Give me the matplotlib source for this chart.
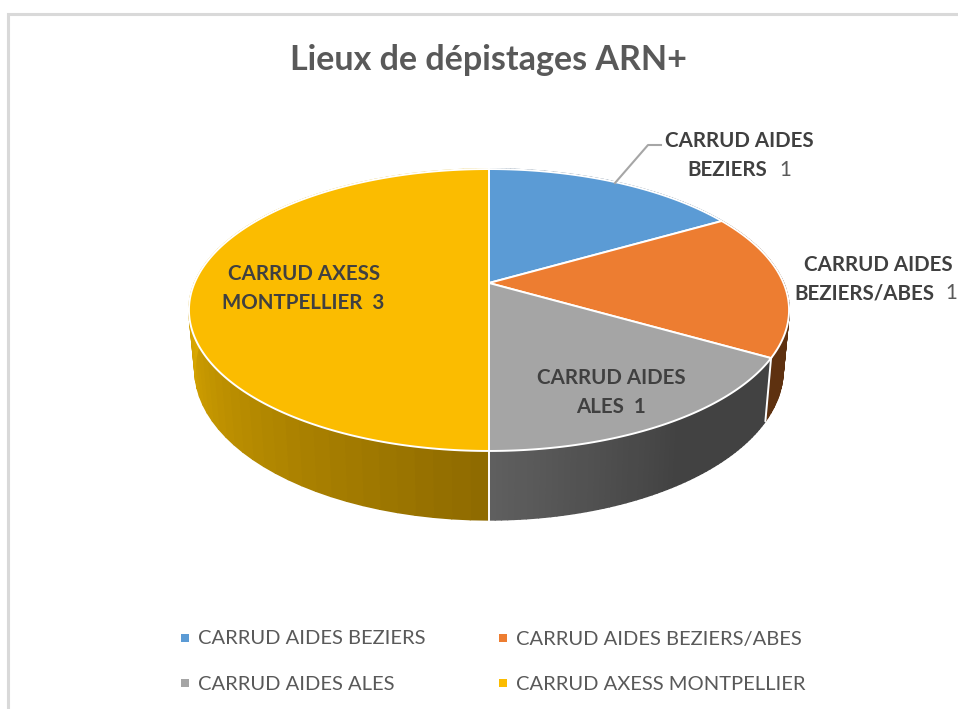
import numpy as np
import matplotlib
matplotlib.use("Agg")
import matplotlib.pyplot as plt
from matplotlib.collections import PolyCollection
from matplotlib.patches import Rectangle
from matplotlib.colors import to_rgb

categories = ["CARRUD AIDES BEZIERS", "CARRUD AIDES BEZIERS/ABES", "CARRUD AIDES ALES", "CARRUD AXESS MONTPELLIER"]
values = [1, 1, 1, 3]
colors = ["#5B9BD5", "#ED7D31", "#A5A5A5", "#FBBC00"]
# wall shade at the start and end of each slice
wall_start = ["#2E4F6E", "#5E3110", "#424242", "#8F6B00"]
wall_end = ["#2E4F6E", "#5E3110", "#5F5F5F", "#DDAA00"]
# share of the slice over which the shade changes, from its start
wall_span = [1, 1, 1, 0.5]
# grey wall stays flat for the first part
wall_hold = [0, 0, 0.45, 0]

plt.rcParams['font.family'] = ['Lato', 'DejaVu Sans']
GREY_TXT = "#595959"
DARK_TXT = "#404040"
LABEL_SIZE = 14.8

# pie projection, in pixels of the picture
CX, CY = 489, 283
RX, RY = 294.5, 135.8
K = 0.1915
SIDE_RX, SIDE_RY, SIDE_CY = 288.6, 144.6, 341


def project(theta, rx=RX, ry=RY, cy=CY):
    x = np.sin(theta)
    y = np.cos(theta)
    w = 1 + K * y
    return CX + rx * x / w, cy - ry * y / w


fig = plt.figure(figsize=(9.58, 7.09), dpi=100)
ax = fig.add_axes([0, 0, 1, 1])
ax.set_xlim(0, 958)
ax.set_ylim(709, 0)
ax.axis("off")

# outer frame, only top and left are in the shot
ax.plot([8.5, 8.5, 958], [708, 13.5, 13.5], color="#D9D9D9", lw=2.2, solid_joinstyle="miter")

edges = np.cumsum([0] + values) / sum(values) * 2 * np.pi

# walls
for i in range(len(values)):
    t = np.linspace(edges[i], edges[i + 1], 61)
    x0, y0 = project(t)
    x1, y1 = project(t, SIDE_RX, SIDE_RY, SIDE_CY)
    c0 = np.array(to_rgb(wall_start[i]))
    c1 = np.array(to_rgb(wall_end[i]))
    quads = []
    cols = []
    for j in range(len(t) - 1):
        quads.append([(x0[j], y0[j]), (x0[j + 1], y0[j + 1]), (x1[j + 1], y1[j + 1]), (x1[j], y1[j])])
        f = j / (len(t) - 2)
        f = np.clip((f - wall_hold[i]) / (wall_span[i] - wall_hold[i]), 0, 1)
        cols.append(c0 * (1 - f) + c1 * f)
    ax.add_collection(PolyCollection(quads, facecolors=cols, edgecolors=cols, linewidths=1.2, zorder=2))

# white seams on the wall
for e in edges[2:4]:
    x0, y0 = project(e)
    x1, y1 = project(e, SIDE_RX, SIDE_RY, SIDE_CY)
    ax.plot([x0, x1], [y0, y1], color="white", lw=1.4, zorder=3)

# top face
for i in range(len(values)):
    t = np.linspace(edges[i], edges[i + 1], 200)
    x, y = project(t)
    ax.fill(np.r_[CX, x], np.r_[CY, y], facecolor=colors[i], edgecolor="white", lw=1.4, zorder=4)

ax.text(489, 60, "Lieux de dépistages ARN+", ha="center", va="center", fontsize=24.5, fontweight="bold", color=GREY_TXT)

# data labels
ax.plot([615, 648, 661], [183, 145, 145], color="#A6A6A6", lw=1.5, zorder=5)
ax.text(739, 141, "CARRUD AIDES", ha="center", va="center", fontsize=LABEL_SIZE, fontweight="bold", color=DARK_TXT)
ax.text(767, 170, "BEZIERS", ha="right", va="center", fontsize=LABEL_SIZE, fontweight="bold", color=DARK_TXT)
ax.text(779, 170, str(values[0]), ha="left", va="center", fontsize=LABEL_SIZE, color=GREY_TXT)
ax.text(878, 265, "CARRUD AIDES", ha="center", va="center", fontsize=LABEL_SIZE, fontweight="bold", color=DARK_TXT)
ax.text(934, 293, "BEZIERS/ABES", ha="right", va="center", fontsize=LABEL_SIZE, fontweight="bold", color=DARK_TXT)
ax.text(945, 293, str(values[1]), ha="left", va="center", fontsize=LABEL_SIZE, color=GREY_TXT)
ax.text(611, 378, "CARRUD AIDES", ha="center", va="center", fontsize=LABEL_SIZE, fontweight="bold", color=DARK_TXT, zorder=6)
ax.text(611, 407, "ALES  %d" % values[2], ha="center", va="center", fontsize=LABEL_SIZE, fontweight="bold", color=DARK_TXT, zorder=6)
ax.text(304, 274, "CARRUD AXESS", ha="center", va="center", fontsize=LABEL_SIZE, fontweight="bold", color=DARK_TXT, zorder=6)
ax.text(303, 303, "MONTPELLIER  %d" % values[3], ha="center", va="center", fontsize=LABEL_SIZE, fontweight="bold", color=DARK_TXT, zorder=6)

# legend
leg_pos = [(181, 638), (499, 638), (181, 683), (499, 683)]
for (lx, ly), name, c in zip(leg_pos, categories, colors):
    ax.add_patch(Rectangle((lx, ly - 4), 8, 8, facecolor=c, edgecolor="none"))
    ax.text(lx + 17, ly + 1, name, ha="left", va="center", fontsize=14.5, color=GREY_TXT)

fig.savefig("out.png", dpi=100)
